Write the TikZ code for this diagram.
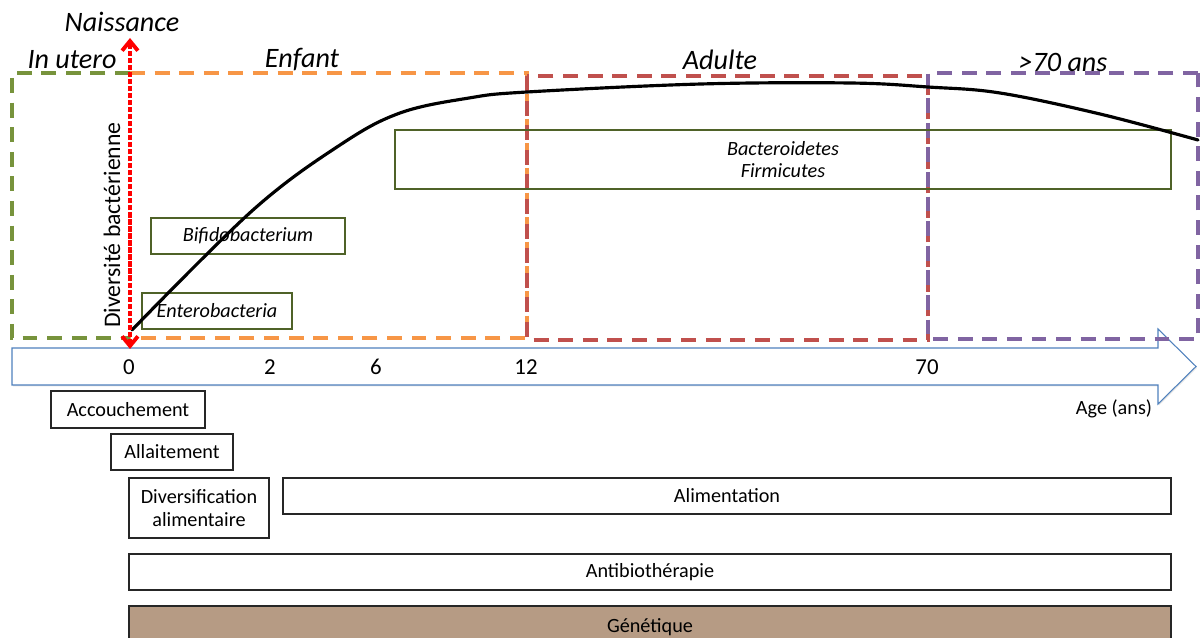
\documentclass[tikz,border=0pt]{standalone}
\usepackage{fontspec}
\setmainfont{Carlito}
\usetikzlibrary{arrows.meta,shadows}

\definecolor{uterocol}{RGB}{119,147,60}
\definecolor{enfantcol}{RGB}{247,150,70}
\definecolor{adultecol}{RGB}{192,80,77}
\definecolor{seniorcol}{RGB}{128,100,162}
\definecolor{axecol}{RGB}{79,129,189}
\definecolor{bactcol}{RGB}{79,98,40}
\definecolor{genetcol}{RGB}{182,155,132}

\tikzset{
  phase/.style={line width=2.3pt, dash pattern=on 8.5pt off 5.5pt},
  bact/.style={draw=bactcol, line width=0.7pt, inner sep=0pt, align=center,
    font=\fontsize{11.5}{12.5}\selectfont\itshape},
  facteur/.style={draw=black!85, line width=0.9pt, fill=white, inner sep=0pt, align=center,
    drop shadow={shadow xshift=0.6pt, shadow yshift=-0.8pt, opacity=0.25},
    font=\fontsize{11.5}{13}\selectfont},
  periode/.style={font=\fontsize{16}{18}\selectfont\itshape},
  agelbl/.style={font=\fontsize{13}{15}\selectfont},
}

\begin{document}
\begin{tikzpicture}[x=0.02cm, y=-0.02cm]
\useasboundingbox (0,0) rectangle (1200,638);
% axe des ages
\draw[axecol, line width=0.6pt, fill=white, drop shadow={shadow xshift=0.6pt, shadow yshift=-0.8pt, opacity=0.2}]
  (12,348) -- (1158,348) -- (1158,329) -- (1196,366.5) -- (1158,404) -- (1158,385) -- (12,385) -- cycle;
\node[agelbl] (t0) at (129,367) {0};
\node[agelbl] (t2) at (270,367) {2};
\node[agelbl] (t6) at (376,367) {6};
\node[agelbl] (t12) at (526,367) {12};
\node[agelbl] (t70) at (927,367) {70};
\node[font=\fontsize{11.5}{13}\selectfont] (age) at (1114,409) {Age (ans)};
% facteurs
\node[facteur, minimum width=3.08cm, minimum height=0.74cm] (accouch) at (128,409.5) {Accouchement};
\node[facteur, minimum width=2.44cm, minimum height=0.72cm] (allait) at (172,452) {Allaitement};
\node[facteur, minimum width=2.8cm, minimum height=1.2cm] (divers) at (199,508) {Diversification\\alimentaire};
\node[facteur, minimum width=17.76cm, minimum height=0.72cm] (alim) at (727,496) {Alimentation};
\node[facteur, minimum width=20.84cm, minimum height=0.72cm] (antibio) at (650,572) {Antibiothérapie};
\node[facteur, fill=genetcol, minimum width=20.84cm, minimum height=0.84cm] (genet) at (650,627) {Génétique};
% periodes
\draw[phase, uterocol] (130,73) -- (12,73) -- (12,338) -- (130,338);
\draw[phase, enfantcol] (130,73) -- (527,73) -- (527,338) -- (130,338);
\draw[phase, adultecol] (527,76) rectangle (928,340);
\draw[phase, seniorcol] (1198,73) -- (928,73) -- (928,339) -- (1198,339) -- cycle;
% bacteries
\node[bact, minimum width=3.0cm, minimum height=0.72cm] (entero) at (217,311) {Enterobacteria};
\node[bact, minimum width=3.88cm, minimum height=0.72cm] (bifido) at (248,236) {Bifidobacterium};
\node[bact, minimum width=15.52cm, minimum height=1.18cm] (bactero) at (783,159.5) {Bacteroidetes\\Firmicutes};
% diversite
\draw[line width=1.8pt, line cap=round] plot[smooth, tension=0.6] coordinates {(132,330) (253,210) (340,145) (400,113) (469,98) (527,92) (701,84) (850,83) (928,87) (1000,93) (1100,114) (1198,140)};
\node[rotate=90, font=\fontsize{13.5}{15}\selectfont] (diversite) at (112,225) {Diversité bactérienne};
% naissance
\coordinate (birthtop) at (130,38);
\coordinate (birthbot) at (130,349);
\draw[red, line width=2.2pt, dash pattern=on 3pt off 1pt, {Straight Barb[length=5.5pt,width=9pt]}-{Straight Barb[length=5.5pt,width=9pt]}] (birthbot) -- (birthtop);
\node[periode] (naiss) at (122,22) {Naissance};
\node[periode] (utero) at (72,60) {In utero};
\node[periode] (enfant) at (302,60) {Enfant};
\node[periode] (adulte) at (720,60) {Adulte};
\node[periode] (senior) at (1063,62) {>70 ans};
\end{tikzpicture}
\end{document}
